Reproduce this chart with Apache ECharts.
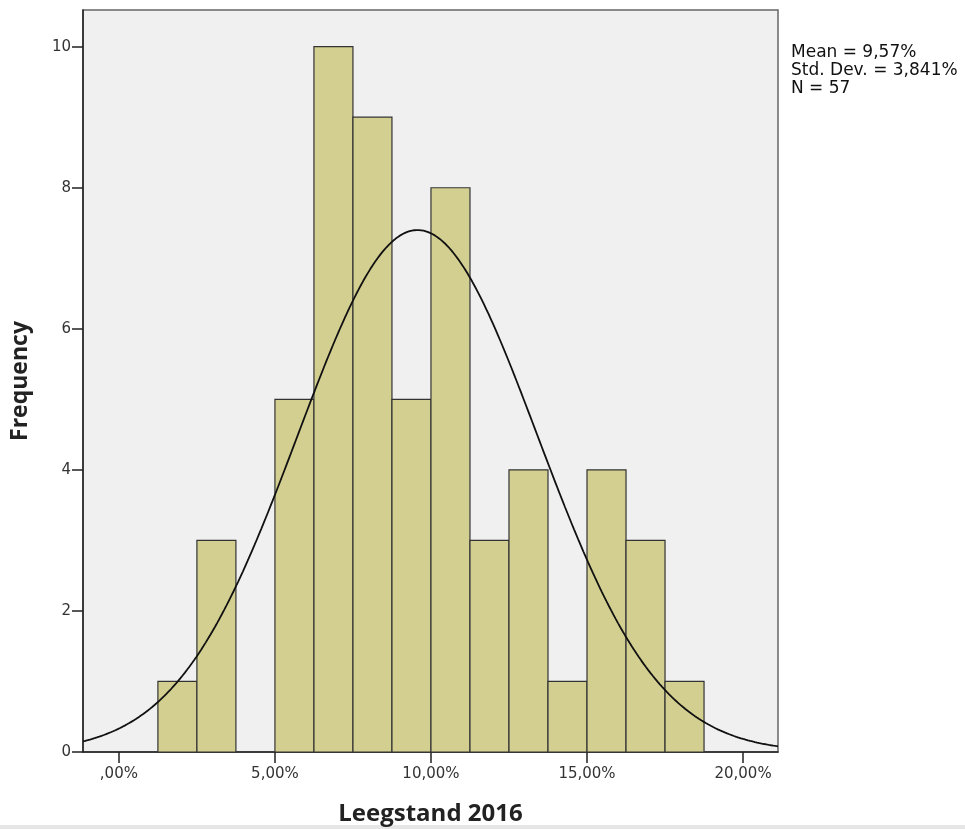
<!DOCTYPE html>
<html><head><meta charset="utf-8">
<script src="https://cdn.jsdelivr.net/npm/echarts@6/dist/echarts.min.js"></script>
<style>html,body{margin:0;padding:0;background:#fff}#c{width:965px;height:829px}</style>
</head><body><div id="c"></div>
<script>
// Histogram bins (percent) and frequencies
const binStarts = [1.25, 2.5, 3.75, 5, 6.25, 7.5, 8.75, 10, 11.25, 12.5, 13.75, 15, 16.25, 17.5];
const binWidth = 1.25;
const frequencies = [1, 3, 0, 5, 10, 9, 5, 8, 3, 4, 1, 4, 3, 1];
const xTickValues = [0, 5, 10, 15, 20];
const xTickLabels = [',00%', '5,00%', '10,00%', '15,00%', '20,00%'];
const yTickValues = [0, 2, 4, 6, 8, 10];
const statsMean = 9.57, statsSd = 3.841, statsN = 57;
const statsLines = ['Mean = 9,57%', 'Std. Dev. = 3,841%', 'N = 57'];
const xMin = -1.15, xMax = 21.12, yMax = 10.52;

// Fitted normal curve from the displayed statistics
const curve = [];
for (let i = 0; i <= 300; i++) {
  const x = xMin + (xMax - xMin) * i / 300;
  const z = (x - statsMean) / statsSd;
  curve.push([x, statsN * binWidth / (statsSd * Math.sqrt(2 * Math.PI)) * Math.exp(-0.5 * z * z)]);
}
const barData = binStarts.map((s, i) => [s, s + binWidth, frequencies[i]]).filter(d => d[2] > 0);

const chart = echarts.init(document.getElementById('c'), null, {renderer: 'canvas'});
const font = 'DejaVu Sans';
chart.setOption({
  animation: false,
  backgroundColor: '#fff',
  grid: {left: 83, right: 187, top: 10, bottom: 77, show: true, containLabel: false, outerBoundsMode: 'none',
    backgroundColor: '#f0f0f0', borderColor: '#666', borderWidth: 1.5},
  xAxis: {
    type: 'value', min: xMin, max: xMax,
    axisLine: {show: true, onZero: false, lineStyle: {color: '#222', width: 1.5}},
    axisTick: {show: true, length: 11, customValues: xTickValues, lineStyle: {color: '#222', width: 1.5}},
    axisLabel: {customValues: xTickValues, formatter: v => xTickLabels[xTickValues.indexOf(v)], color: '#333', fontSize: 15, fontFamily: font, margin: 15},
    splitLine: {show: false},
    name: 'Leegstand 2016', nameLocation: 'middle', nameGap: 50,
    nameTextStyle: {fontSize: 24, fontWeight: 'bold', color: '#222', fontFamily: 'Open Sans'}
  },
  yAxis: {
    type: 'value', min: 0, max: yMax, interval: 2,
    axisLine: {show: true, onZero: false, lineStyle: {color: '#222', width: 1.5}},
    axisTick: {show: true, length: 11, customValues: yTickValues, lineStyle: {color: '#222', width: 1.5}},
    axisLabel: {customValues: yTickValues, color: '#333', fontSize: 15, fontFamily: font, margin: 12},
    splitLine: {show: false},
    name: 'Frequency', nameLocation: 'middle', nameGap: 51, nameRotate: 90,
    nameTextStyle: {fontSize: 23, fontWeight: 'bold', color: '#222', fontFamily: 'Open Sans'}
  },
  series: [
    {
      type: 'custom',
      data: barData,
      renderItem: function (params, api) {
        const p0 = api.coord([api.value(0), 0]);
        const p1 = api.coord([api.value(1), api.value(2)]);
        return {type: 'rect', shape: {x: p0[0], y: p1[1], width: p1[0] - p0[0], height: p0[1] - p1[1]},
          style: {fill: '#d3cf91', stroke: '#333', lineWidth: 1.2}};
      },
      encode: {x: [0, 1], y: 2},
      z: 2
    },
    {
      type: 'line', data: curve, showSymbol: false, smooth: false,
      lineStyle: {color: '#111', width: 1.8}, z: 3
    }
  ],
  graphic: [
    {type: 'text', left: 791, top: 44, style: {text: statsLines.join('\n'), fontSize: 17, lineHeight: 18, fontFamily: font, fill: '#111'}},
    {type: 'rect', left: 0, top: 825, shape: {width: 965, height: 4}, style: {fill: '#e6e6e6'}}
  ]
});
</script></body></html>
